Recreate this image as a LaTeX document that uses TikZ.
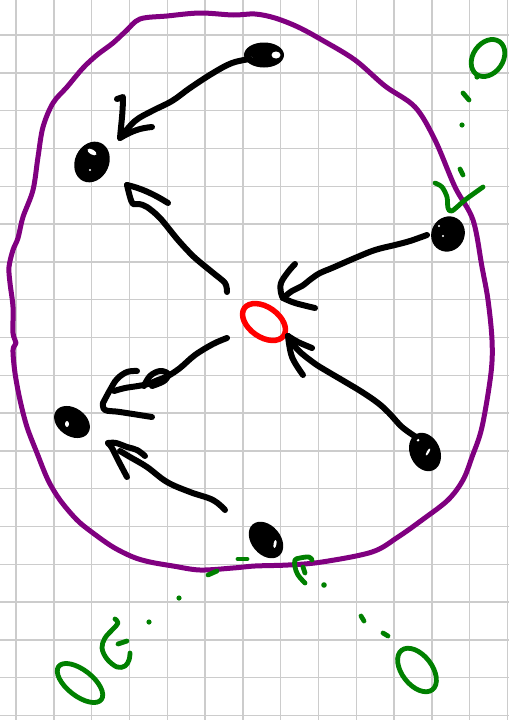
\documentclass[tikz,border=0pt]{standalone}
\definecolor{gridgray}{RGB}{204,204,204}
\definecolor{rimpurple}{RGB}{128,0,128}
\definecolor{inkgreen}{RGB}{0,128,0}
\tikzset{
  gridline/.style={draw=gridgray, line width=1.4pt},
  rim/.style={draw=rimpurple, line width=5pt, line cap=round, line join=round},
  ink/.style={draw=black, line width=6pt, line cap=round, line join=round},
  gink/.style={draw=inkgreen, line width=4.8pt, line cap=round, line join=round},
  gdot/.style={fill=inkgreen},
  rink/.style={draw=red, line width=5.5pt},
  blob/.style={fill=black},
  shine/.style={fill=white},
}
\begin{document}
\begin{tikzpicture}[x=1pt,y=-1pt]
\useasboundingbox (0,0) rectangle (509,720);
\fill[white] (0,0) rectangle (509,720);
% grid paper
\foreach \i in {0,...,13} \draw[gridline] ({16+37.8*\i},0) -- ({16+37.8*\i},720);
\foreach \j in {0,...,18} \draw[gridline] (0,{35+37.8*\j}) -- (509,{35+37.8*\j});

% purple rim
\draw[rim] plot[smooth cycle, tension=0.55] coordinates {
 (140,19) (167,16) (200,13) (233,15) (255,14) (275,18) (298,27) (322,40) (355,60)
 (385,86) (415,107) (435,140) (455,187) (473,220) (482,267) (488,300) (492,340)
 (491,373) (482,427) (472,457) (463,480) (448,500) (422,520) (398,537) (372,552)
 (322,562) (288,565) (255,566) (233,568) (200,570) (173,566) (150,562) (133,557)
 (113,547) (93,533) (77,520) (60,500) (48,480) (37,453) (27,427) (20,400) (15,373)
 (13,350) (16,343) (13,333) (13,307) (10,283) (9,267) (13,250) (18,238) (23,217)
 (33,190) (38,157) (43,127) (53,103) (67,87) (83,68) (97,55) (113,43) (126,31)};

% black blobs
\coordinate (top) at (264,55);
\coordinate (ul) at (92,162);
\coordinate (rt) at (448,234);
\coordinate (lf) at (72,422);
\coordinate (lr) at (425,452);
\coordinate (bt) at (266,540);
\coordinate (ctr) at (264,322);

\fill[blob] (top) ellipse [x radius=20, y radius=12.5];
\fill[blob, rotate around={-25:(ul)}] (ul) ellipse [x radius=17, y radius=21];
\fill[blob, rotate around={-30:(rt)}] (rt) ellipse [x radius=16.5, y radius=18];
\fill[blob, rotate around={-35:(lf)}] (lf) ellipse [x radius=19.5, y radius=14];
\fill[blob, rotate around={25:(lr)}] (lr) ellipse [x radius=15, y radius=20];
\fill[blob, rotate around={-50:(bt)}] (bt) ellipse [x radius=20.5, y radius=14.5];
% highlights
\fill[shine] (276,55) ellipse [x radius=4.5, y radius=3.5];
\fill[shine] (251,58) ellipse [x radius=1.5, y radius=1.5];
\fill[shine, rotate around={-30:(92,152)}] (92,152) ellipse [x radius=5, y radius=2.5];
\fill[shine] (90,170) circle (1.2);
\fill[shine] (439,226) circle (1.2);
\fill[shine] (443,236) circle (1.2);
\fill[shine] (67,424) ellipse [x radius=2, y radius=3];
\fill[shine] (418,440) circle (1.5);
\fill[shine, rotate around={60:(428,452)}] (428,452) ellipse [x radius=4, y radius=1.2];
\fill[shine, rotate around={80:(275,544)}] (275,544) ellipse [x radius=4, y radius=1.5];

% red centre
\draw[rink, rotate around={-35:(ctr)}] (ctr) ellipse [x radius=24, y radius=15];

% arrow 1: top -> upper left
\coordinate (a1s) at (250,59); \coordinate (a1t) at (120,138);
\draw[ink] plot[smooth, tension=0.6] coordinates {(a1s) (232,63) (213,73) (190,88) (172,101) (152,111) (135,121) (a1t)};
\draw[ink] (117,99) -- (123,97) .. controls (123,112) and (121,126) .. (a1t) .. controls (132,131) and (140,128) .. (152,127);

% arrow 2: centre -> upper left
\coordinate (a2s) at (227,292); \coordinate (a2t) at (127,185);
\draw[ink] plot[smooth, tension=0.5] coordinates {(a2s) (225,283) (212,272) (194,257) (178,240) (160,218) (147,207) (139,204) (133,204) (130,197) (a2t)};
\draw[ink] (a2t) .. controls (140,188) and (152,193) .. (168,203);

% arrow 3: right -> centre
\coordinate (a3s) at (427,235); \coordinate (a3t) at (283,298);
\draw[ink] plot[smooth, tension=0.6] coordinates {(a3s) (410,241) (395,245) (375,250) (355,258) (332,268) (320,273) (311,279) (302,286) (292,291) (a3t)};
\draw[ink] plot[smooth, tension=0.6] coordinates {(295,264) (288,272) (281,283) (281,293) (a3t)};
\draw[ink] plot[smooth, tension=0.6] coordinates {(a3t) (295,303) (315,308)};

% arrow 4: lower right -> centre
\coordinate (a4s) at (416,437); \coordinate (a4t) at (288,336);
\draw[ink] plot[smooth, tension=0.6] coordinates {(a4s) (402,427) (389,413) (378,403) (362,392) (342,380) (325,370) (314,363) (298,350) (a4t)};
\draw[ink] plot[smooth, tension=0.6] coordinates {(a4t) (298,342) (312,348)};
\draw[ink] plot[smooth, tension=0.6] coordinates {(a4t) (292,357) (303,375)};

% arrow 5: centre -> left
\coordinate (a5s) at (227,338); \coordinate (a5t) at (103,403);
\draw[ink] plot[smooth, tension=0.55] coordinates {(a5s) (213,344) (195,355) (180,368) (168,376) (158,380) (148,384) (138,386) (125,388) (114,391)};
\draw[ink] plot[smooth, tension=0.6] coordinates {(144,386) (150,376) (160,371) (168,374) (164,381) (152,386)};
\draw[ink] plot[smooth, tension=0.6] coordinates {(137,371) (127,372) (117,379) (110,390) (a5t)};
\draw[ink] plot[smooth, tension=0.6] coordinates {(a5t) (105,410) (120,412) (152,417)};

% arrow 6: bottom -> left
\coordinate (a6s) at (225,510); \coordinate (a6t) at (108,443);
\draw[ink] plot[smooth, tension=0.6] coordinates {(a6s) (213,500) (190,492) (167,482) (147,467) (130,457) (120,451)};
\draw[ink] plot[smooth, tension=0.6] coordinates {(a6t) (116,443) (127,447) (137,450) (145,456)};
\draw[ink] plot[smooth, tension=0.6] coordinates {(a6t) (112,448) (118,460) (127,477)};

% green: top right
\coordinate (g1) at (488,58);
\draw[gink, rotate around={55:(g1)}] (g1) ellipse [x radius=20, y radius=15];
\fill[gdot] (477,77) circle (2.6);
\draw[gink] (463,93) -- (469,100);
\fill[gdot] (462,125) circle (2.6);
\draw[gink] (460,169) -- (463,175);
\draw[gink] plot[smooth, tension=0.5] coordinates {(435,183) (442,187) (447,197) (448,208) (452,211) (465,200) (483,187)};

% green: bottom left
\coordinate (g2) at (80,683);
\draw[gink] (238,559) -- (247,559);
\draw[gink] (208,575) -- (217,571);
\fill[gdot] (179,598) circle (2.6);
\fill[gdot] (149,622) circle (2.6);
\draw[gink] plot[smooth, tension=0.6] coordinates {(115,619) (118,623) (113,629) (105,638) (102,648) (107,659) (117,667) (125,666) (129,660) (130,653)};
\draw[gink] (118,644) -- (127,641);
\draw[gink, rotate around={-38:(g2)}] (g2) ellipse [x radius=27, y radius=13];

% green: bottom right
\coordinate (g3) at (417,670);
\draw[gink] plot[smooth, tension=0.6] coordinates {(305,583) (298,575) (295,567) (295,560) (300,558) (309,557) (312,560)};
\draw[gink] (303,567) -- (305,573);
\fill[gdot] (324,585) circle (2.8);
\draw[gink] (361,616) -- (364,621);
\draw[gink] (383,633) -- (388,636);
\draw[gink, rotate around={-52:(g3)}] (g3) ellipse [x radius=25, y radius=15];
\end{tikzpicture}
\end{document}
